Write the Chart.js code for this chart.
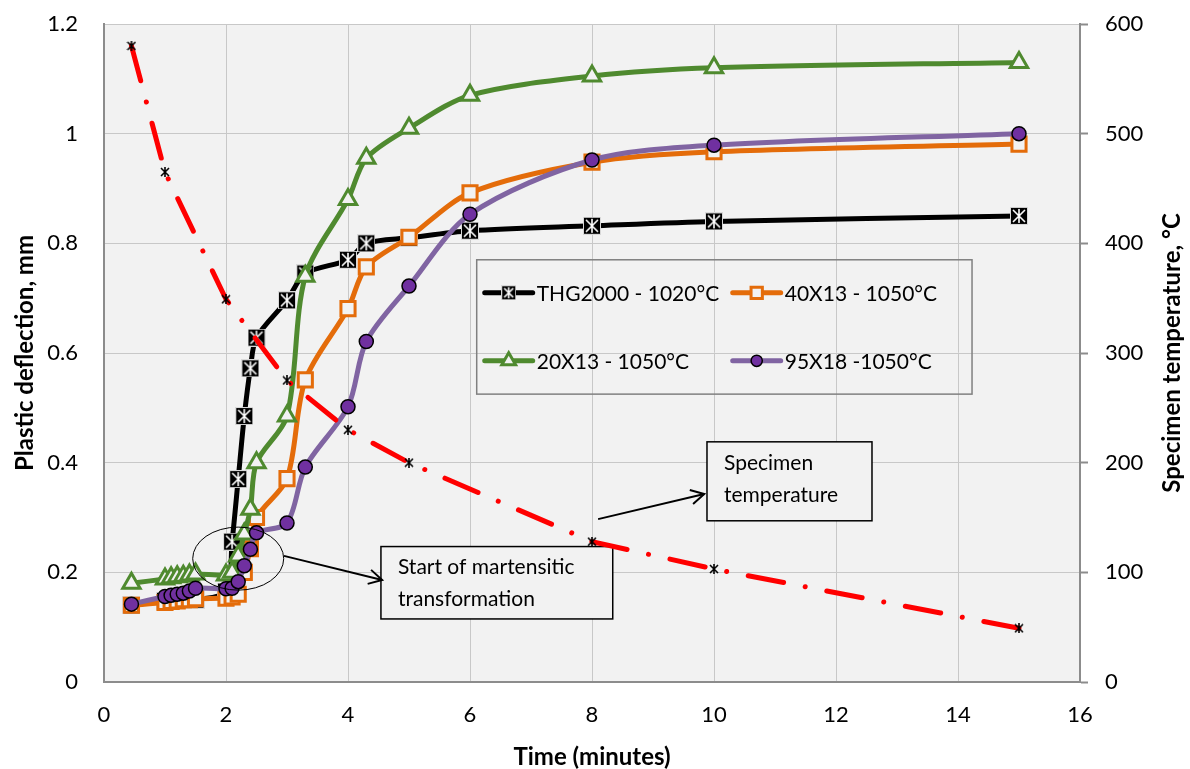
<!DOCTYPE html>
<html lang="en">
<head>
    <meta charset="UTF-8">
    <title>Plastic deflection vs time</title>
    <script src="https://cdn.jsdelivr.net/npm/chart.js"></script>
    <style>
        html, body { margin: 0; padding: 0; background: #ffffff; }
        .chart-container { position: relative; width: 1190px; height: 769px; }
    </style>
</head>
<body>
    <div class="chart-container">
        <canvas id="deflectionChart"></canvas>
    </div>

    <script>
        // time axis shared by the four steel series (minutes)
        const timeMin = [0.45, 1.0, 1.1, 1.2, 1.3, 1.4, 1.5, 2.0, 2.1, 2.2, 2.3, 2.4, 2.5, 3.0, 3.3, 4.0, 4.3, 5, 6, 8, 10, 15];

        // plastic deflection, mm
        const thg2000 = [0.14, 0.148, 0.148, 0.15, 0.15, 0.15, 0.15, 0.165, 0.256, 0.37, 0.485, 0.572, 0.628, 0.696, 0.745, 0.77, 0.80, 0.81, 0.823, 0.832, 0.84, 0.85];
        const s40x13 = [0.14, 0.145, 0.147, 0.148, 0.15, 0.15, 0.152, 0.153, 0.155, 0.16, 0.20, 0.243, 0.30, 0.371, 0.551, 0.681, 0.757, 0.811, 0.892, 0.948, 0.967, 0.981];
        const s20x13 = [0.18, 0.188, 0.19, 0.192, 0.193, 0.195, 0.197, 0.195, 0.20, 0.23, 0.27, 0.315, 0.40, 0.485, 0.74, 0.88, 0.955, 1.01, 1.07, 1.105, 1.12, 1.13];
        const s95x18 = [0.142, 0.156, 0.158, 0.16, 0.162, 0.166, 0.171, 0.17, 0.171, 0.183, 0.212, 0.242, 0.272, 0.29, 0.392, 0.502, 0.621, 0.722, 0.853, 0.952, 0.979, 1.0];

        // specimen temperature, °C
        const tempTime = [0.45, 1, 2, 3, 4, 5, 8, 10, 15];
        const tempC = [580, 465, 349, 275, 230, 200, 128, 103, 49];

        const seriesLabels = ['THG2000 - 1020°C', '40X13 - 1050°C', '20X13 - 1050°C', '95X18 -1050°C'];
        const xTickLabels = ['0', '2', '4', '6', '8', '10', '12', '14', '16'];
        const yTickLabels = ['0', '0.2', '0.4', '0.6', '0.8', '1', '1.2'];
        const tempTickLabels = ['0', '100', '200', '300', '400', '500', '600'];

        const FONT = 'Lato, "Open Sans", sans-serif';
        const PLOT_BG = '#f2f2f2';

        function pts(xs, ys) {
            return xs.map((x, i) => ({ x: x, y: ys[i] }));
        }

        // black square with white asterisk
        function starSquare(size) {
            const c = document.createElement('canvas');
            c.width = size; c.height = size;
            const g = c.getContext('2d');
            g.fillStyle = '#000';
            g.fillRect(0, 0, size, size);
            g.strokeStyle = '#ffffff';
            g.lineWidth = 1.6;
            const p = 3;
            g.beginPath();
            g.moveTo(p, p); g.lineTo(size - p, size - p);
            g.moveTo(size - p, p); g.lineTo(p, size - p);
            g.moveTo(size / 2, p - 1); g.lineTo(size / 2, size - p + 1);
            g.stroke();
            g.strokeStyle = '#d8d8d8';
            g.lineWidth = 1;
            g.strokeRect(0.5, 0.5, size - 1, size - 1);
            return c;
        }

        // small black asterisk for the temperature points
        function asterisk(size) {
            const c = document.createElement('canvas');
            c.width = size; c.height = size;
            const g = c.getContext('2d');
            g.strokeStyle = '#000';
            g.lineWidth = 1.6;
            g.beginPath();
            g.moveTo(1, 1); g.lineTo(size - 1, size - 1);
            g.moveTo(size - 1, 1); g.lineTo(1, size - 1);
            g.moveTo(size / 2, 0); g.lineTo(size / 2, size);
            g.stroke();
            return c;
        }

        const blackMarker = starSquare(18);
        const blackMarkerSmall = starSquare(15);
        const tempMarker = asterisk(10);

        // annotation shapes, in data units of x / y (left axis)
        const noteBoxes = [
            { x0: 4.54, x1: 8.34, y0: 0.247, y1: 0.115, lines: ['Start of martensitic', 'transformation'] },
            { x0: 9.885, x1: 12.59, y0: 0.438, y1: 0.294, lines: ['Specimen', 'temperature'] }
        ];
        const noteArrows = [
            { from: [2.95, 0.23], to: [4.56, 0.186] },
            { from: [8.1, 0.297], to: [9.84, 0.343] }
        ];
        const noteEllipse = { cx: 2.2, cy: 0.225, rx: 0.746, ry: 0.0575 };
        const legendBox = { x0: 6.11, x1: 14.23, y0: 0.77, y1: 0.525 };

        function drawMarker(ctx, ds, x, y, scale) {
            const style = ds.pointStyle;
            if (style instanceof HTMLCanvasElement) {
                const img = scale < 1 ? blackMarkerSmall : style;
                ctx.drawImage(img, x - img.width / 2, y - img.height / 2);
                return;
            }
            const r = ds.pointRadius * scale;
            ctx.save();
            ctx.fillStyle = ds.pointBackgroundColor;
            ctx.strokeStyle = ds.pointBorderColor;
            ctx.lineWidth = ds.pointBorderWidth;
            ctx.beginPath();
            if (style === 'rect') {
                const s = Math.SQRT1_2 * r;
                ctx.rect(x - s, y - s, 2 * s, 2 * s);
            } else if (style === 'triangle') {
                for (let k = 0; k < 3; k++) {
                    const a = k * 2 * Math.PI / 3;
                    const px = x + Math.sin(a) * r, py = y - Math.cos(a) * r;
                    if (k === 0) ctx.moveTo(px, py); else ctx.lineTo(px, py);
                }
                ctx.closePath();
            } else {
                ctx.arc(x, y, r, 0, Math.PI * 2);
            }
            ctx.fill();
            ctx.stroke();
            ctx.restore();
        }

        function arrowHead(ctx, x0, y0, x1, y1) {
            const ang = Math.atan2(y1 - y0, x1 - x0);
            const len = 15, spread = 0.5;
            ctx.beginPath();
            ctx.moveTo(x1 - len * Math.cos(ang - spread), y1 - len * Math.sin(ang - spread));
            ctx.lineTo(x1, y1);
            ctx.lineTo(x1 - len * Math.cos(ang + spread), y1 - len * Math.sin(ang + spread));
            ctx.stroke();
        }

        const plotDecor = {
            id: 'plotDecor',
            beforeDraw(chart) {
                const a = chart.chartArea, ctx = chart.ctx;
                ctx.save();
                ctx.fillStyle = PLOT_BG;
                ctx.fillRect(a.left, a.top, a.right - a.left, a.bottom - a.top);
                ctx.restore();
            },
            beforeDatasetsDraw(chart) {
                const ctx = chart.ctx, sx = chart.scales.x, sy = chart.scales.y;
                ctx.save();
                noteBoxes.forEach(b => {
                    const l = sx.getPixelForValue(b.x0), r = sx.getPixelForValue(b.x1);
                    const t = sy.getPixelForValue(b.y0), btm = sy.getPixelForValue(b.y1);
                    ctx.fillStyle = PLOT_BG;
                    ctx.fillRect(l, t, r - l, btm - t);
                    ctx.strokeStyle = '#000';
                    ctx.lineWidth = 1.5;
                    ctx.strokeRect(l, t, r - l, btm - t);
                    ctx.fillStyle = '#000';
                    ctx.font = '21px ' + FONT;
                    ctx.textBaseline = 'middle';
                    ctx.textAlign = 'left';
                    b.lines.forEach((line, i) => {
                        ctx.fillText(line, l + 17, t + 21 + i * 32);
                    });
                });
                ctx.restore();
            },
            afterDatasetsDraw(chart) {
                const ctx = chart.ctx, sx = chart.scales.x, sy = chart.scales.y;
                ctx.save();
                // ellipse round the start of transformation
                ctx.strokeStyle = '#000';
                ctx.lineWidth = 1;
                ctx.beginPath();
                const ecx = sx.getPixelForValue(noteEllipse.cx), ecy = sy.getPixelForValue(noteEllipse.cy);
                const erx = sx.getPixelForValue(noteEllipse.cx + noteEllipse.rx) - ecx;
                const ery = ecy - sy.getPixelForValue(noteEllipse.cy + noteEllipse.ry);
                ctx.ellipse(ecx, ecy, erx, ery, 0, 0, Math.PI * 2);
                ctx.stroke();

                // arrows
                ctx.lineWidth = 2;
                noteArrows.forEach(ar => {
                    const x0 = sx.getPixelForValue(ar.from[0]), y0 = sy.getPixelForValue(ar.from[1]);
                    const x1 = sx.getPixelForValue(ar.to[0]), y1 = sy.getPixelForValue(ar.to[1]);
                    ctx.beginPath();
                    ctx.moveTo(x0, y0);
                    ctx.lineTo(x1, y1);
                    ctx.stroke();
                    arrowHead(ctx, x0, y0, x1, y1);
                });

                // legend
                const lx = sx.getPixelForValue(legendBox.x0), rx = sx.getPixelForValue(legendBox.x1);
                const ty = sy.getPixelForValue(legendBox.y0), by = sy.getPixelForValue(legendBox.y1);
                ctx.strokeStyle = '#808080';
                ctx.lineWidth = 1.5;
                ctx.strokeRect(lx, ty, rx - lx, by - ty);
                ctx.font = '21px ' + FONT;
                ctx.textBaseline = 'middle';
                ctx.textAlign = 'left';
                seriesLabels.forEach((label, i) => {
                    const ds = chart.data.datasets.find(d => d.label === label);
                    const col = i % 2, row = Math.floor(i / 2);
                    const x = lx + 8 + col * 248;
                    const y = ty + 33 + row * 68;
                    ctx.strokeStyle = ds.borderColor;
                    ctx.lineWidth = 5;
                    ctx.lineCap = 'round';
                    ctx.beginPath();
                    ctx.moveTo(x, y);
                    ctx.lineTo(x + 48, y);
                    ctx.stroke();
                    drawMarker(ctx, ds, x + 24, y, 0.8);
                    ctx.fillStyle = '#000';
                    ctx.fillText(label, x + 52, y + 1);
                });

                ctx.restore();
            },
            afterDraw(chart) {
                // right axis title reads bottom to top
                const ctx = chart.ctx, a = chart.chartArea;
                ctx.save();
                ctx.translate(1172, (a.top + a.bottom) / 2);
                ctx.rotate(-Math.PI / 2);
                ctx.font = 'bold 24px ' + FONT;
                ctx.fillStyle = '#000';
                ctx.textAlign = 'center';
                ctx.textBaseline = 'middle';
                ctx.fillText('Specimen temperature, °C', 0, 0);
                ctx.restore();
            }
        };

        const titleFont = { family: FONT, size: 24, weight: 'bold', lineHeight: 1 };

        function createChart() {
            const ctx = document.getElementById('deflectionChart').getContext('2d');
            new Chart(ctx, {
                type: 'line',
                data: {
                    datasets: [{
                        label: 'Specimen temperature',
                        data: pts(tempTime, tempC),
                        yAxisID: 'y2',
                        borderColor: '#ff0000',
                        borderWidth: 5,
                        borderDash: [36, 22, 0.01, 22],
                        borderCapStyle: 'round',
                        tension: 0,
                        pointStyle: tempMarker,
                        pointRadius: 5,
                        order: 0
                    }, {
                        label: seriesLabels[3],
                        data: pts(timeMin, s95x18),
                        borderColor: '#8064a2',
                        borderWidth: 5,
                        tension: 0.3,
                        pointStyle: 'circle',
                        pointRadius: 7,
                        pointBorderWidth: 1.5,
                        pointBorderColor: '#000000',
                        pointBackgroundColor: '#7030a0',
                        order: 1
                    }, {
                        label: seriesLabels[2],
                        data: pts(timeMin, s20x13),
                        borderColor: '#4f8a2f',
                        borderWidth: 5,
                        tension: 0.3,
                        pointStyle: 'triangle',
                        pointRadius: 10,
                        pointBorderWidth: 3,
                        pointBorderColor: '#4f8a2f',
                        pointBackgroundColor: PLOT_BG,
                        order: 2
                    }, {
                        label: seriesLabels[1],
                        data: pts(timeMin, s40x13),
                        borderColor: '#e46c0a',
                        borderWidth: 5,
                        tension: 0.3,
                        pointStyle: 'rect',
                        pointRadius: 10,
                        pointBorderWidth: 3,
                        pointBorderColor: '#e46c0a',
                        pointBackgroundColor: PLOT_BG,
                        order: 3
                    }, {
                        label: seriesLabels[0],
                        data: pts(timeMin, thg2000),
                        borderColor: '#000000',
                        borderWidth: 5,
                        tension: 0.3,
                        pointStyle: blackMarker,
                        pointRadius: 9,
                        order: 4
                    }]
                },
                options: {
                    responsive: true,
                    maintainAspectRatio: false,
                    animation: false,
                    layout: { padding: { top: 24, left: 0, right: 0, bottom: 0 } },
                    plugins: {
                        legend: { display: false },
                        tooltip: { enabled: false }
                    },
                    scales: {
                        x: {
                            type: 'linear',
                            min: 0,
                            max: 16,
                            afterFit: s => { s.height = 87; },
                            ticks: {
                                stepSize: 2,
                                padding: 20,
                                color: '#000',
                                font: { family: FONT, size: 22 },
                                callback: (v, i) => xTickLabels[i]
                            },
                            grid: { color: '#c8c8c8', lineWidth: 1, drawTicks: false },
                            border: { color: '#8c8c8c', width: 2 },
                            title: {
                                display: true,
                                text: 'Time (minutes)',
                                color: '#000',
                                font: titleFont,
                                padding: { top: 0, bottom: 0 }
                            }
                        },
                        y: {
                            position: 'left',
                            min: 0,
                            max: 1.2,
                            afterFit: s => { s.width = 104; s.paddingTop = 0; s.paddingBottom = 0; },
                            ticks: {
                                stepSize: 0.2,
                                padding: 26,
                                color: '#000',
                                font: { family: FONT, size: 22 },
                                callback: (v, i) => yTickLabels[i]
                            },
                            grid: { color: '#c8c8c8', lineWidth: 1, drawTicks: false },
                            border: { color: '#8c8c8c', width: 2 },
                            title: {
                                display: true,
                                text: 'Plastic deflection, mm',
                                color: '#000',
                                font: titleFont,
                                padding: { top: 13, bottom: 0 }
                            }
                        },
                        y2: {
                            position: 'right',
                            min: 0,
                            max: 600,
                            afterFit: s => { s.width = 110; s.paddingTop = 0; s.paddingBottom = 0; },
                            ticks: {
                                stepSize: 100,
                                padding: 17,
                                color: '#000',
                                font: { family: FONT, size: 22 },
                                callback: (v, i) => tempTickLabels[i]
                            },
                            grid: { drawOnChartArea: false, drawTicks: true, tickLength: 8, tickColor: '#8c8c8c', tickWidth: 2 },
                            border: { color: '#8c8c8c', width: 2 }
                        }
                    }
                },
                plugins: [plotDecor]
            });
        }

        document.addEventListener('DOMContentLoaded', createChart);
    </script>
</body>
</html>
